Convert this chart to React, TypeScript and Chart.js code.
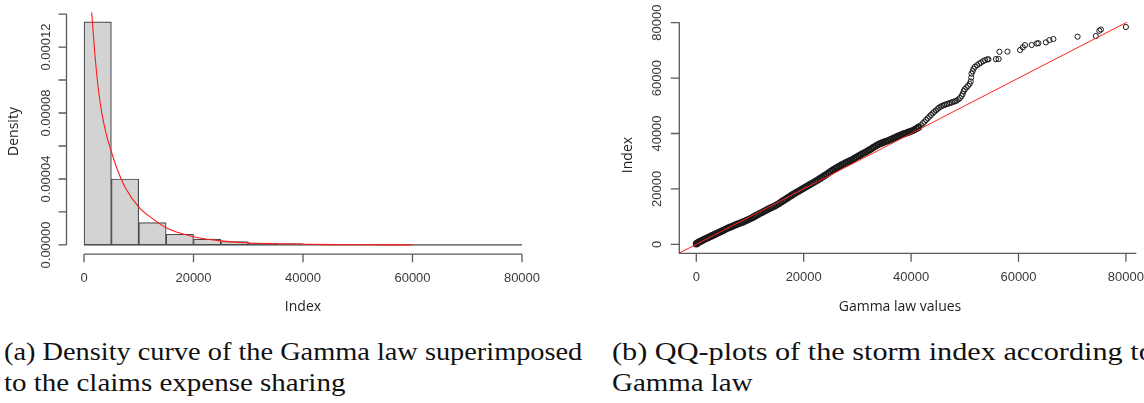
import React, { useEffect, useLayoutEffect, useRef, useState } from "react";
import { Chart, registerables } from "chart.js";

Chart.register(...registerables);

// ---------------- (a) Histogram + Gamma density ----------------
const binStarts = [0, 5000, 10000, 15000, 20000, 25000, 30000, 35000, 40000, 45000, 50000, 55000, 60000, 65000, 70000, 75000];
const binWidth = 5000;
const binDensities = [
  0.0001353, 0.00004, 0.0000135, 0.0000065, 0.0000035, 0.0000021, 0.0000012, 0.0000009,
  0.0000006, 0.0000003, 0, 0, 0, 0, 0, 0,
];
const curveX = [1400, 2000, 2600, 3200, 4000, 5000, 6000, 7500, 10000, 12500, 15000, 17500, 20000, 22500, 25000, 30000, 35000, 40000, 45000, 50000, 55000, 60000];
const curveY = [
  0.000141, 0.000115, 0.000095, 0.000081, 0.000068, 0.0000565, 0.0000465, 0.000035, 0.000023, 0.000016,
  0.0000105, 0.0000072, 0.000005, 0.0000035, 0.0000025, 0.0000012, 0.0000007, 0.0000004, 0.0000002,
  0.0000001, 0.00000006, 0.00000003,
];
const histXTicks = [0, 20000, 40000, 60000, 80000];
const histYTicks = [0, 0.00002, 0.00004, 0.00006, 0.00008, 0.0001, 0.00012, 0.00014];
const histYLabelValues = [0, 0.00004, 0.00008, 0.00012];
const histYLabels = ["0.00000", "0.00004", "0.00008", "0.00012"];

// ---------------- (b) QQ plot ----------------
const qqTheoretical = [
  0, 250, 500, 750, 1000, 1250, 1500, 1750, 2000, 2250, 2500, 2750, 3000, 3250, 3500, 3750, 4000, 4250, 4500, 4750, 5000,
  5400, 5800, 6200, 6600, 7000, 7400, 7800, 8200, 8600, 9000, 9400, 9800, 10200, 10600, 11000, 11400, 11800, 12200,
  12600, 13000, 13400, 13800, 14200, 14600, 15000, 15400, 15800, 16200, 16600, 17000, 17400, 17800, 18200, 18600,
  19000, 19400, 19800,
  20200, 20600, 21000, 21400, 21800, 22200, 22600, 23000, 23400, 23800, 24200, 24600, 25000, 25400, 25800, 26200,
  26600, 27000, 27400, 27800, 28200, 28600, 29000, 29400, 29800, 30200, 30600, 31000, 31400, 31800, 32200, 32600,
  33000, 33400, 33800, 34200, 34600, 35000, 35400, 35800, 36200, 36600, 37000, 37400, 37800, 38200, 38600, 39000,
  39400, 39800, 40200, 40600, 41000,
  41400, 41800, 42200, 42500, 42800, 43100, 43400, 43700, 44000, 44300, 44600, 44900, 45200, 45500, 45800, 46100,
  46400, 46700, 47000, 47300, 47600, 47900, 48200, 48500, 48800, 49100, 49400, 49600, 49800, 50000, 50300, 50600,
  50900, 51100, 51200, 51250, 51450, 51650, 51900, 52300, 52700, 53000, 53400, 53800, 54200, 54400, 55800, 56300,
  56450, 57950, 60300, 60800, 61200, 62450, 63400, 63700, 65100, 65750, 66500, 71000, 74400, 75050, 75350, 80000,
];
const qqSample = [
  150, 500, 800, 1050, 1300, 1550, 1800, 2000, 2250, 2450, 2700, 2950, 3200, 3400, 3650, 3900, 4100, 4350, 4550, 4800, 5000,
  5400, 5750, 6100, 6450, 6750, 7100, 7400, 7700, 8000, 8300, 8650, 9000, 9400, 9800, 10250, 10650, 11100, 11500,
  11900, 12300, 12700, 13100, 13450, 13850, 14300, 14750, 15250, 15750, 16250, 16750, 17250, 17750, 18250, 18700,
  19150, 19600, 20050,
  20500, 20950, 21400, 21850, 22300, 22750, 23200, 23700, 24200, 24700, 25200, 25700, 26250, 26800, 27300, 27750,
  28200, 28600, 29000, 29400, 29750, 30100, 30500, 30950, 31400, 31850, 32300, 32750, 33150, 33600, 34050, 34500,
  35000, 35500, 35950, 36300, 36600, 36900, 37200, 37500, 37850, 38200, 38550, 38900, 39250, 39550, 39850, 40100,
  40400, 40700, 41000, 41350, 41800,
  42300, 43000, 43700, 44300, 44900, 45500, 46100, 46700, 47300, 47800, 48300, 48800, 49300, 49700, 50000, 50250,
  50450, 50650, 50850, 51050, 51250, 51450, 51650, 51900, 52300, 52800, 53500, 54300, 55300, 56000, 56600, 57200,
  57900, 58800, 60200, 61600, 62500, 63400, 64100, 64700, 65200, 65600, 66100, 66500, 66750, 66800, 66850, 66900,
  69500, 69550, 70150, 71100, 71900, 71950, 72500, 72600, 72900, 73700, 74100, 74950, 75200, 77100, 77550, 78450,
];
const qqXTicks = [0, 20000, 40000, 60000, 80000];
const qqYTicks = [0, 20000, 40000, 60000, 80000];
const qqLineIntercept = 0;
const qqLineSlope = 1;

// ---------------- styling ----------------
const AXIS_COLOR = "#5a5a5a";
const AXIS_WIDTH = 1.3;
const TEXT_COLOR = "#3a3a3a";
const TICK_FONT = '13px "Liberation Sans", Arial, sans-serif';
const TITLE_FONT = '14px "Open Sans", sans-serif';

interface AxisCfg {
  box: "L" | "none";
  xTicks: number[];
  yTicks: number[];
  yLabelValues: number[];
  yLabels: string[];
  xTitle: string;
  yTitle: string;
  xTitlePos: [number, number];
  yTitlePos: [number, number];
  yLabelGap: number;
  xLabelGap: number;
  tickLen: number;
}

function makeAxesPlugin(cfg: AxisCfg) {
  return {
    id: "rAxes",
    afterDraw(chart: any) {
      const ctx: CanvasRenderingContext2D = chart.ctx;
      const a = chart.chartArea;
      const xs = chart.scales.x;
      const ys = chart.scales.y;
      ctx.save();
      ctx.strokeStyle = AXIS_COLOR;
      ctx.lineWidth = AXIS_WIDTH;
      ctx.beginPath();
      if (cfg.box === "L") {
        ctx.moveTo(a.left, a.top);
        ctx.lineTo(a.left, a.bottom);
        ctx.lineTo(a.right, a.bottom);
      } else {
        ctx.moveTo(a.left, ys.getPixelForValue(cfg.yTicks[0]));
        ctx.lineTo(a.left, ys.getPixelForValue(cfg.yTicks[cfg.yTicks.length - 1]));
        ctx.moveTo(xs.getPixelForValue(cfg.xTicks[0]), a.bottom);
        ctx.lineTo(xs.getPixelForValue(cfg.xTicks[cfg.xTicks.length - 1]), a.bottom);
      }
      cfg.yTicks.forEach((v) => {
        const py = ys.getPixelForValue(v);
        ctx.moveTo(a.left, py);
        ctx.lineTo(a.left - cfg.tickLen, py);
      });
      cfg.xTicks.forEach((v) => {
        const px = xs.getPixelForValue(v);
        ctx.moveTo(px, a.bottom);
        ctx.lineTo(px, a.bottom + cfg.tickLen);
      });
      ctx.stroke();

      ctx.fillStyle = TEXT_COLOR;
      ctx.font = TICK_FONT;
      ctx.textAlign = "center";
      ctx.textBaseline = "middle";
      cfg.xTicks.forEach((v) => {
        ctx.fillText(String(v), xs.getPixelForValue(v), a.bottom + cfg.xLabelGap);
      });
      cfg.yLabelValues.forEach((v, i) => {
        ctx.save();
        ctx.translate(a.left - cfg.yLabelGap, ys.getPixelForValue(v));
        ctx.rotate(-Math.PI / 2);
        ctx.fillText(cfg.yLabels[i], 0, 0);
        ctx.restore();
      });

      ctx.fillStyle = "#222";
      ctx.font = TITLE_FONT;
      ctx.fillText(cfg.xTitle, cfg.xTitlePos[0], cfg.xTitlePos[1]);
      ctx.save();
      ctx.translate(cfg.yTitlePos[0], cfg.yTitlePos[1]);
      ctx.rotate(-Math.PI / 2);
      ctx.fillText(cfg.yTitle, 0, 0);
      ctx.restore();
      ctx.restore();
    },
  };
}

function HistogramChart() {
  const ref = useRef<HTMLCanvasElement>(null);
  useEffect(() => {
    if (!ref.current) return;
    const bars = binStarts.map((s, i) => ({ x: s + binWidth / 2, y: binDensities[i] }));
    const baseline = [
      { x: binStarts[0], y: 0 },
      { x: binStarts[binStarts.length - 1] + binWidth, y: 0 },
    ];
    const curve = curveX.map((x, i) => ({ x, y: curveY[i] }));
    const chart = new Chart(ref.current, {
      type: "bar",
      data: {
        datasets: [
          {
            type: "bar",
            data: bars as any,
            backgroundColor: "#d3d3d3",
            borderColor: "#4a4a4a",
            borderWidth: 1.2,
            borderSkipped: false,
            barPercentage: 1,
            categoryPercentage: 1,
            order: 3,
          } as any,
          {
            type: "line",
            data: baseline as any,
            borderColor: "#4a4a4a",
            borderWidth: 1.2,
            pointRadius: 0,
            order: 2,
          } as any,
          {
            type: "line",
            data: curve as any,
            borderColor: "#ff1a1a",
            borderWidth: 1.1,
            pointRadius: 0,
            cubicInterpolationMode: "monotone",
            order: 1,
          } as any,
        ],
      },
      options: {
        animation: false,
        responsive: false,
        devicePixelRatio: 1,
        layout: { padding: { left: 66.5, right: 32.5, top: 4.8, bottom: 65.8 } },
        plugins: { legend: { display: false }, tooltip: { enabled: false } },
        scales: {
          x: { type: "linear", min: -3200, max: 83200, offset: false, display: false },
          y: { type: "linear", min: -0.0000056, max: 0.0001456, display: false },
        },
      },
      plugins: [
        makeAxesPlugin({
          box: "none",
          xTicks: histXTicks,
          yTicks: histYTicks,
          yLabelValues: histYLabelValues,
          yLabels: histYLabels,
          xTitle: "Index",
          yTitle: "Density",
          xTitlePos: [303, 307],
          yTitlePos: [14, 131.5],
          yLabelGap: 20,
          xLabelGap: 24,
          tickLen: 8,
        }),
      ],
    });
    return () => chart.destroy();
  }, []);
  return (
    <canvas
      ref={ref}
      width={572}
      height={320}
      style={{ position: "absolute", left: 0, top: 0, width: 572, height: 320 }}
    />
  );
}

function QQChart() {
  const ref = useRef<HTMLCanvasElement>(null);
  useEffect(() => {
    if (!ref.current) return;
    const xMin = -3166;
    const xMax = 81937;
    const pts = qqTheoretical.map((x, i) => ({ x, y: qqSample[i] }));
    const line = [xMin - 5000, xMax + 5000].map((x) => ({ x, y: qqLineIntercept + qqLineSlope * x }));
    // where points are packed tightly, their rings merge into a solid band
    const ringWidth = (c: any) => {
      const i = c.dataIndex;
      if (i === undefined) return 1;
      const prev = i > 0 ? qqTheoretical[i] - qqTheoretical[i - 1] : 0;
      const next = i < qqTheoretical.length - 1 ? qqTheoretical[i + 1] - qqTheoretical[i] : 0;
      return Math.max(prev, next) <= 500 && qqTheoretical[i] < 41500 ? 1.9 : 1;
    };
    const chart = new Chart(ref.current, {
      type: "scatter",
      data: {
        datasets: [
          {
            type: "line",
            data: line as any,
            borderColor: "#ff2020",
            borderWidth: 1,
            pointRadius: 0,
            order: 0,
          } as any,
          {
            type: "scatter",
            data: pts as any,
            pointRadius: 2.6,
            pointBorderWidth: ringWidth,
            borderColor: "#1a1a1a",
            pointBorderColor: "#1a1a1a",
            backgroundColor: "rgba(0,0,0,0)",
            pointBackgroundColor: "rgba(0,0,0,0)",
            order: 1,
          } as any,
        ],
      },
      options: {
        animation: false,
        responsive: false,
        devicePixelRatio: 1,
        layout: { padding: { left: 107.3, right: 7.7, top: 22.15, bottom: 66.7 } },
        plugins: { legend: { display: false }, tooltip: { enabled: false } },
        scales: {
          x: { type: "linear", min: xMin, max: xMax, display: false },
          y: { type: "linear", min: -3250, max: 80200, display: false },
        },
      },
      plugins: [
        makeAxesPlugin({
          box: "L",
          xTicks: qqXTicks,
          yTicks: qqYTicks,
          yLabelValues: qqYTicks,
          yLabels: qqYTicks.map((v) => String(v)),
          xTitle: "Gamma law values",
          yTitle: "Index",
          xTitlePos: [328, 307],
          yTitlePos: [56.3, 155],
          yLabelGap: 21.8,
          xLabelGap: 23.7,
          tickLen: 8.5,
        }),
      ],
    });
    return () => chart.destroy();
  }, []);
  return (
    <canvas
      ref={ref}
      width={572}
      height={320}
      style={{ position: "absolute", left: 572, top: 0, width: 572, height: 320 }}
    />
  );
}

const captionA = ["(a) Density curve of the Gamma law superimposed", "to the claims expense sharing"];
const captionB = ["(b) QQ-plots of the storm index according to", "Gamma law"];
const captionAWidths = [578, 341];
const captionBWidths = [542, 140];

function CaptionLine({ text, width, top, left }: { text: string; width: number; top: number; left: number }) {
  const ref = useRef<HTMLDivElement>(null);
  const [sx, setSx] = useState(1);
  useLayoutEffect(() => {
    if (ref.current) {
      const w = ref.current.offsetWidth;
      if (w > 0) setSx(width / w);
    }
  }, [width]);
  return (
    <div
      ref={ref}
      style={{
        position: "absolute",
        left,
        top,
        fontFamily: '"Liberation Serif", "Times New Roman", serif',
        fontSize: 25,
        lineHeight: "31.7px",
        whiteSpace: "nowrap",
        color: "#111",
        transformOrigin: "left top",
        transform: `scaleX(${sx})`,
      }}
    >
      {text}
    </div>
  );
}

function Captions() {
  return (
    <>
      {captionA.map((t, i) => (
        <CaptionLine key={"a" + i} text={t} width={captionAWidths[i]} left={4} top={335.7 + i * 31.7} />
      ))}
      {captionB.map((t, i) => (
        <CaptionLine key={"b" + i} text={t} width={captionBWidths[i]} left={612} top={335.7 + i * 31.7} />
      ))}
    </>
  );
}

export default function App() {
  return (
    <div
      style={{
        position: "absolute",
        left: 0,
        top: 0,
        width: 1144,
        height: 403,
        overflow: "hidden",
        background: "#fff",
      }}
    >
      <HistogramChart />
      <QQChart />
      <Captions />
    </div>
  );
}
